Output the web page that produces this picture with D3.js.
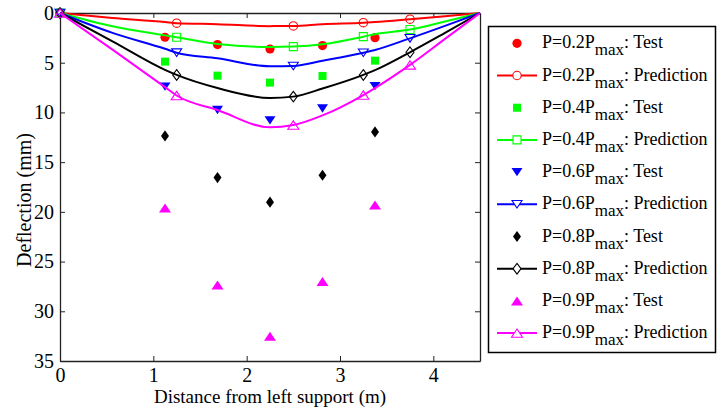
<!DOCTYPE html>
<html>
<head>
<meta charset="utf-8">
<script src="https://cdn.jsdelivr.net/npm/d3@7"></script>
<style>
  body { margin: 0; background: #fff; }
</style>
</head>
<body>
<div id="chart"></div>
<script>
const FONT = "Times New Roman";

// load levels (fraction of Pmax)
const loads = ["0.2", "0.4", "0.6", "0.8", "0.9"];
const colors = ["#ff0000", "#00ff00", "#0000ff", "#000000", "#ff00ff"];
const testShapes = ["o", "s", "v", "d", "^"];

// test readings, distance (m) / deflection (mm)
const testX = [1.125, 1.6875, 2.25, 2.8125, 3.375];
const test02 = [2.44, 3.18, 3.62, 3.28, 2.48];
const test04 = [4.89, 6.30, 7.00, 6.33, 4.79];
const test06 = [7.40, 9.75, 10.8, 9.60, 7.35];
const test08 = [12.36, 16.55, 19.03, 16.32, 11.96];
const test09 = [19.6, 27.35, 32.5, 27.0, 19.3];

// predicted curves
const predX = [0, 0.5625, 1.125, 1.25, 1.6875, 2.25, 2.5, 2.8125, 3.25, 3.375, 3.75, 4.125, 4.5];
const predMarkerX = [0, 1.25, 2.5, 3.25, 3.75];
const pred02 = [0, 0.50, 0.90, 1.02, 1.12, 1.32, 1.30, 1.12, 0.97, 0.90, 0.62, 0.32, 0];
const pred04 = [0, 1.34, 2.25, 2.44, 3.12, 3.42, 3.38, 3.15, 2.38, 2.13, 1.66, 0.85, 0];
const pred06 = [0, 2.00, 3.60, 3.99, 4.55, 5.36, 5.33, 4.80, 4.00, 3.72, 2.55, 1.30, 0];
const pred08 = [0, 2.85, 5.72, 6.23, 7.55, 8.55, 8.41, 7.60, 6.23, 5.75, 3.95, 2.00, 0];
const pred09 = [0, 3.69, 7.45, 8.30, 9.75, 11.5, 11.27, 10.3, 8.25, 7.55, 5.22, 2.60, 0];

const xTicks = [0, 1, 2, 3, 4];
const yTicks = [0, 5, 10, 15, 20, 25, 30, 35];

const tests = [test02, test04, test06, test08, test09];
const preds = [pred02, pred04, pred06, pred08, pred09];

const width = 718, height = 413;
const plot = { left: 60, right: 480, top: 13, bottom: 361 };

const svg = d3.select("#chart").append("svg")
    .attr("width", width)
    .attr("height", height)
    .attr("font-family", FONT);

const x = d3.scaleLinear().domain([0, 4.5]).range([plot.left, plot.right]);
const y = d3.scaleLinear().domain([0, 35]).range([plot.top, plot.bottom]);

// marker outlines, centred on 0,0
function markerPath(shape, filled) {
    if (shape === "o") {
        const r = filled ? 4.6 : 4.2;
        return `M${r},0A${r},${r} 0 1 1 ${-r},0A${r},${r} 0 1 1 ${r},0Z`;
    }
    if (shape === "s") {
        const a = 4;
        return `M${-a},${-a}L${a},${-a}L${a},${a}L${-a},${a}Z`;
    }
    if (shape === "v") {
        const w = filled ? 5.5 : 5, h = filled ? 4.2 : 3.8;
        return `M${-w},${-h}L${w},${-h}L0,${h}Z`;
    }
    if (shape === "^") {
        const w = filled ? 6 : 5.5, h = filled ? 4.5 : 4.2;
        return `M${-w},${h}L${w},${h}L0,${-h}Z`;
    }
    // diamond
    const w = 4, h = filled ? 5.6 : 5.3;
    return `M0,${-h}L${w},0L0,${h}L${-w},0Z`;
}

function styleTicks(g) {
    g.attr("font-family", FONT).attr("font-size", 20);
    g.selectAll("text")
        .style("font-family", FONT)
        .style("font-size", "20px")
        .attr("fill", "#000");
}

// axes, ticks point inward, mirrored on top and right
svg.append("g")
    .attr("transform", `translate(0,${plot.bottom})`)
    .call(d3.axisBottom(x).tickValues(xTicks).tickFormat(d3.format("d"))
        .tickSizeInner(-5).tickSizeOuter(0).tickPadding(7))
    .call(styleTicks);

svg.append("g")
    .attr("transform", `translate(0,${plot.top})`)
    .call(d3.axisTop(x).tickValues(xTicks).tickSizeInner(-5).tickSizeOuter(0).tickFormat(""));

svg.append("g")
    .attr("transform", `translate(${plot.left},0)`)
    .call(d3.axisLeft(y).tickValues(yTicks).tickFormat(d3.format("d"))
        .tickSizeInner(-5).tickSizeOuter(0).tickPadding(6))
    .call(styleTicks);

svg.append("g")
    .attr("transform", `translate(${plot.right},0)`)
    .call(d3.axisRight(y).tickValues(yTicks).tickSizeInner(-5).tickSizeOuter(0).tickFormat(""));

svg.selectAll(".domain").attr("stroke", "#222").attr("stroke-width", 1.3);
svg.selectAll(".tick line").attr("stroke", "#222");

// axis titles
svg.append("text")
    .attr("x", (plot.left + plot.right) / 2)
    .attr("y", 403)
    .attr("text-anchor", "middle")
    .style("font-family", FONT)
    .style("font-size", "19px")
    .text("Distance from left support (m)");

svg.append("text")
    .attr("transform", "translate(31,200) rotate(-90)")
    .attr("text-anchor", "middle")
    .style("font-family", FONT)
    .style("font-size", "20px")
    .text("Deflection (mm)");

const line = d3.line()
    .x(d => x(d[0]))
    .y(d => y(d[1]))
    .curve(d3.curveMonotoneX);

loads.forEach((p, i) => {
    const col = colors[i];
    const shape = testShapes[i];

    // test points
    svg.append("g").selectAll("path")
        .data(testX.map((d, j) => [d, tests[i][j]]))
        .join("path")
        .attr("transform", d => `translate(${x(d[0])},${y(d[1])})`)
        .attr("d", markerPath(shape, true))
        .attr("fill", col);

    // prediction curve
    const pts = predX.map((d, j) => [d, preds[i][j]]);
    svg.append("path")
        .datum(pts)
        .attr("d", line)
        .attr("fill", "none")
        .attr("stroke", col)
        .attr("stroke-width", 2);

    svg.append("g").selectAll("path")
        .data(pts.filter(d => predMarkerX.includes(d[0])))
        .join("path")
        .attr("transform", d => `translate(${x(d[0])},${y(d[1])})`)
        .attr("d", markerPath(shape, false))
        .attr("fill", "none")
        .attr("stroke", col)
        .attr("stroke-width", 1.1);
});

// legend
const legend = svg.append("g");
legend.append("rect")
    .attr("x", 488.5).attr("y", 26.5)
    .attr("width", 227).attr("height", 326)
    .attr("fill", "#fff")
    .attr("stroke", "#000")
    .attr("stroke-width", 1.5);

const rowY = i => 43.3 + i * 32.2;

loads.forEach((p, i) => {
    ["Test", "Prediction"].forEach((kind, k) => {
        const r = i * 2 + k;
        const cy = rowY(r);
        const g = legend.append("g");
        if (k === 1) {
            g.append("line")
                .attr("x1", 497).attr("x2", 537)
                .attr("y1", cy).attr("y2", cy)
                .attr("stroke", colors[i])
                .attr("stroke-width", 2);
        }
        g.append("path")
            .attr("transform", `translate(517,${cy})`)
            .attr("d", markerPath(testShapes[i], k === 0))
            .attr("fill", k === 0 ? colors[i] : "#fff")
            .attr("stroke", k === 0 ? "none" : colors[i])
            .attr("stroke-width", 1.1);

        const t = g.append("text")
            .attr("x", 542)
            .attr("y", cy + 5)
            .style("font-family", FONT)
            .style("font-size", "18px");
        t.append("tspan").text(`P=${p}P`);
        t.append("tspan").attr("dy", 7).style("font-size", "17px").text("max");
        t.append("tspan").attr("dy", -7).text(`: ${kind}`);
    });
});
</script>
</body>
</html>
